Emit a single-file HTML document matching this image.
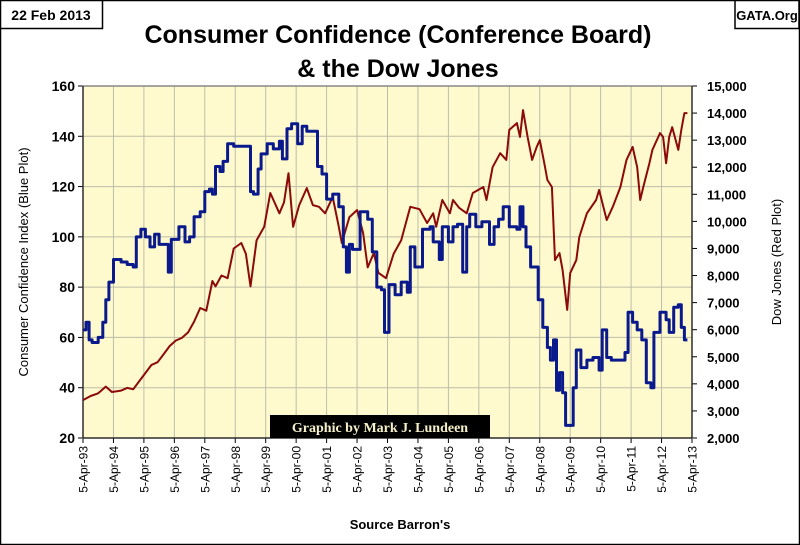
<!DOCTYPE html>
<html><head><meta charset="utf-8"><style>
html,body{margin:0;padding:0;background:#fff;}
svg{display:block;font-family:"Liberation Sans",sans-serif;}
</style></head><body>
<svg id="chart" width="800" height="545" viewBox="0 0 800 545" xmlns="http://www.w3.org/2000/svg">
<rect x="0.5" y="0.5" width="799" height="544" fill="#fff" stroke="#000" stroke-width="1.5"/>
<g>
<rect x="0.5" y="0.5" width="102" height="28" fill="#fff" stroke="#000" stroke-width="1.5"/>
<text x="51" y="20" text-anchor="middle" font-size="14" font-weight="bold">22 Feb 2013</text></g>
<g>
<rect x="735" y="0.5" width="64" height="28" fill="#fff" stroke="#000" stroke-width="1.5"/>
<text x="767" y="20" text-anchor="middle" font-size="13" font-weight="bold">GATA.Org</text></g>
<text x="398" y="43" text-anchor="middle" font-size="25" font-weight="bold">Consumer Confidence (Conference Board)</text>
<text x="398" y="77" text-anchor="middle" font-size="25" font-weight="bold">&amp; the Dow Jones</text>
<rect x="83" y="86" width="609" height="352" fill="#FFFACD"/>
<g id="grid"></g>
<g id="axes"></g>
<g id="series"></g>
<g>
<rect x="270" y="415" width="220" height="23" fill="#000"/>
<text x="380" y="432" text-anchor="middle" font-family="Liberation Serif,serif" font-size="14" font-weight="bold" fill="#F5F0C8">Graphic by Mark J. Lundeen</text></g>
<text transform="translate(28,262) rotate(-90)" text-anchor="middle" font-size="13">Consumer Confidence Index  (Blue Plot)</text>
<text transform="translate(781,262) rotate(-90)" text-anchor="middle" font-size="13">Dow Jones  (Red Plot)</text>
<text x="400" y="529" text-anchor="middle" font-size="13" font-weight="bold">Source Barron's</text>
</svg>
<script>
const xTickLabels = ["5-Apr-93","5-Apr-94","5-Apr-95","5-Apr-96","5-Apr-97","5-Apr-98","5-Apr-99","5-Apr-00","5-Apr-01","5-Apr-02","5-Apr-03","5-Apr-04","5-Apr-05","5-Apr-06","5-Apr-07","5-Apr-08","5-Apr-09","5-Apr-10","5-Apr-11","5-Apr-12","5-Apr-13"];
const leftTicks = [20,40,60,80,100,120,140,160];
const rightTicks = [2000,3000,4000,5000,6000,7000,8000,9000,10000,11000,12000,13000,14000,15000];
const ccDates = [1993.25,1993.35,1993.45,1993.55,1993.75,1993.9,1994.0,1994.1,1994.25,1994.5,1994.7,1994.9,1995.0,1995.15,1995.3,1995.45,1995.6,1995.75,1995.9,1996.05,1996.15,1996.4,1996.6,1996.75,1996.9,1997.1,1997.25,1997.4,1997.5,1997.6,1997.75,1997.85,1998.0,1998.2,1998.5,1998.75,1998.85,1999.0,1999.1,1999.3,1999.5,1999.7,1999.8,1999.95,2000.1,2000.3,2000.45,2000.6,2000.8,2000.95,2001.1,2001.25,2001.45,2001.65,2001.8,2001.9,2002.0,2002.1,2002.35,2002.6,2002.75,2002.9,2003.05,2003.15,2003.3,2003.5,2003.7,2003.9,2004.0,2004.15,2004.4,2004.65,2004.75,2004.95,2005.05,2005.25,2005.4,2005.55,2005.72,2005.85,2005.95,2006.15,2006.35,2006.6,2006.75,2006.9,2007.05,2007.25,2007.5,2007.6,2007.7,2007.8,2007.95,2008.1,2008.2,2008.35,2008.5,2008.6,2008.7,2008.8,2008.9,2009.0,2009.1,2009.25,2009.35,2009.45,2009.6,2009.8,2010.0,2010.2,2010.3,2010.45,2010.6,2010.9,2011.05,2011.15,2011.3,2011.45,2011.6,2011.75,2011.9,2012.0,2012.2,2012.4,2012.5,2012.65,2012.8,2012.9,2013.0,2013.1];
const ccValues = [63,66,59,58,60,66,75,82,91,90,89,88,100,103,100,96,101,97,97,86,99,104,98,100,108,110,118,119,117,128,126,130,137,136,136,118,117,127,133,137,135,138,131,143,145,137,144,142,142,128,125,115,117,112,96,86,97,95,110,107,94,80,79,62,81,77,82,78,96,88,103,104,98,91,104,98,104,105,86,104,109,104,106,97,104,107,112,104,103,112,104,96,88,88,75,64,56,51,59,39,46,38,25,25,40,55,48,51,52,47,63,52,51,51,54,70,66,63,59,42,40,62,70,67,62,72,73,64,59];
const djDates = [1993.25,1993.5,1993.75,1994.0,1994.2,1994.5,1994.7,1994.9,1995.1,1995.3,1995.5,1995.7,1995.9,1996.1,1996.3,1996.5,1996.7,1996.9,1997.1,1997.3,1997.5,1997.6,1997.8,1998.0,1998.2,1998.45,1998.6,1998.75,1998.95,1999.2,1999.4,1999.7,1999.85,2000.0,2000.15,2000.35,2000.6,2000.8,2001.0,2001.2,2001.45,2001.65,2001.75,2002.0,2002.25,2002.45,2002.6,2002.8,2002.95,2003.2,2003.45,2003.7,2004.0,2004.3,2004.55,2004.75,2004.85,2005.05,2005.3,2005.4,2005.6,2005.85,2006.05,2006.4,2006.5,2006.7,2006.95,2007.15,2007.25,2007.5,2007.6,2007.7,2007.85,2008.0,2008.15,2008.25,2008.4,2008.5,2008.65,2008.75,2008.9,2009.0,2009.15,2009.25,2009.45,2009.55,2009.8,2010.1,2010.2,2010.45,2010.65,2010.9,2011.1,2011.3,2011.45,2011.55,2011.65,2011.85,2011.95,2012.2,2012.3,2012.4,2012.5,2012.6,2012.8,2012.9,2013.0,2013.1];
const djValues = [3400,3550,3650,3900,3700,3750,3850,3800,4100,4400,4700,4800,5100,5400,5600,5700,5900,6300,6800,6700,7800,7600,8000,7900,9000,9200,8800,7600,9300,9800,11050,10300,10700,11780,9800,10600,11230,10600,10540,10300,10900,9800,9200,10160,10420,9570,8300,8830,8100,7900,8800,9300,10540,10450,9940,10300,9800,10790,10300,10790,10500,10300,11050,11270,10790,12000,12520,12270,13380,13630,13120,14110,13120,12270,12750,13000,12150,11530,11270,8570,8830,8200,6730,8090,8570,9420,10300,10790,11160,10050,10540,11270,12270,12750,12000,10790,11270,12150,12640,13260,13120,12150,13120,13480,12640,13380,14000,14000];

const NS="http://www.w3.org/2000/svg";
const L=83,R=692,T=86,B=438;
const xS=d=>L+(d-1993.25)/20*(R-L);
const yL=v=>B-(v-20)/140*(B-T);
const yR=v=>B-(v-2000)/13000*(B-T);
function mk(tag,attrs,parent){const e=document.createElementNS(NS,tag);for(const k in attrs)e.setAttribute(k,attrs[k]);parent.appendChild(e);return e;}
const grid=document.getElementById('grid'),axes=document.getElementById('axes'),series=document.getElementById('series');
xTickLabels.forEach((lab,i)=>{
  const x=xS(1993.25+i);
  if(i>0&&i<20){const g=mk('line',{x1:x,x2:x,y1:T,y2:B,stroke:'#BDBDAA','stroke-width':1},grid);
  
  }
  const tk=mk('line',{x1:x,x2:x,y1:B,y2:B+5,stroke:'#000','stroke-width':1},axes);
  
  
  const t=mk('text',{transform:`translate(${x+4.5},${B+8}) rotate(-90)`,'text-anchor':'end','font-size':12},axes);
  t.textContent=lab;
  
  
});
leftTicks.forEach(v=>{
  const y=yL(v);
  if(v>20&&v<160){const g=mk('line',{x1:L,x2:R,y1:y,y2:y,stroke:'#BDBDAA','stroke-width':1},grid);
  
  }
  mk('line',{x1:L-5,x2:L,y1:y,y2:y,stroke:'#000'},axes);
  const t=mk('text',{x:L-8,y:y+5,'text-anchor':'end','font-size':14,'font-weight':'bold'},axes);
  t.textContent=v;
  
  
});
rightTicks.forEach(v=>{
  const y=yR(v);
  mk('line',{x1:R,x2:R+5,y1:y,y2:y,stroke:'#000'},axes);
  const t=mk('text',{x:R+15,y:y+5,'text-anchor':'start','font-size':13,'font-weight':'bold'},axes);
  t.textContent=v.toLocaleString('en-US');
  
  
});
mk('rect',{x:L,y:T,width:R-L,height:B-T,fill:'none',stroke:'#888','stroke-width':1.5},axes);
mk('line',{x1:L,x2:L,y1:T,y2:B,stroke:'#000'},axes);
mk('line',{x1:L,x2:R,y1:B,y2:B,stroke:'#000'},axes);
mk('line',{x1:R,x2:R,y1:T,y2:B,stroke:'#000'},axes);
let dp=djDates.map((d,i)=>(i?'L':'M')+xS(d).toFixed(1)+','+yR(djValues[i]).toFixed(1)).join('');
const red=mk('path',{d:dp,fill:'none',stroke:'#8B0A0A','stroke-width':2,'stroke-linejoin':'round'},series);


let bp='';
ccDates.forEach((d,i)=>{const x=xS(d).toFixed(1),y=yL(ccValues[i]).toFixed(1);
  if(i===0)bp='M'+x+','+y;else bp+='H'+x+'V'+y;});
bp+='H'+xS(2013.15).toFixed(1);
const blue=mk('path',{d:bp,fill:'none',stroke:'#0A1A8C','stroke-width':3,'stroke-linejoin':'round'},series);


</script>
</body></html>
